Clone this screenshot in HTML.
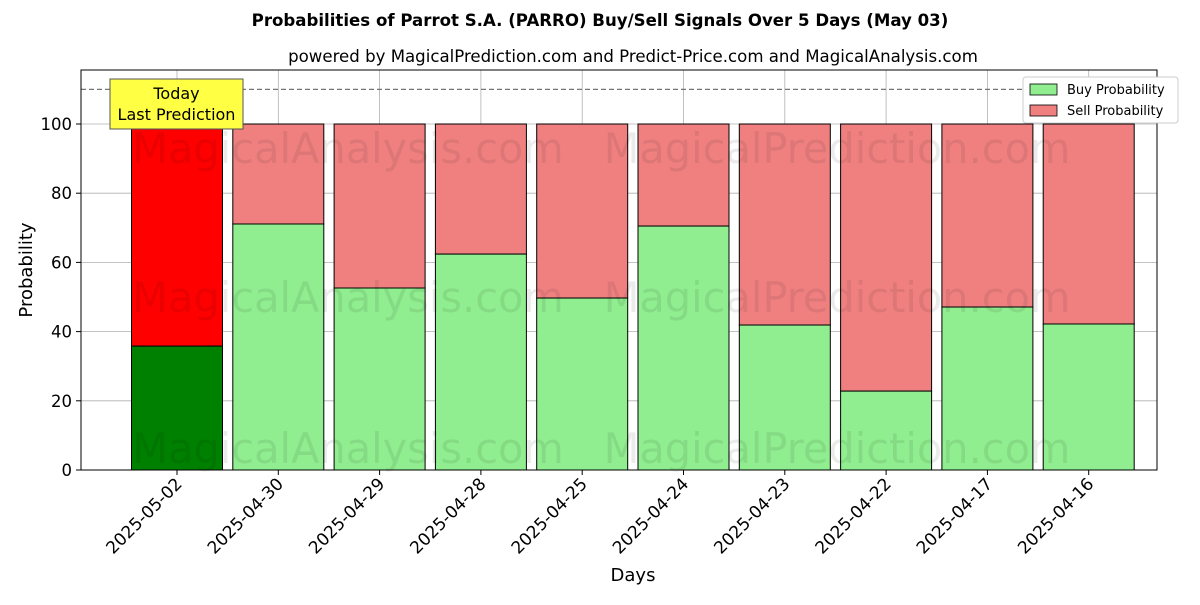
<!DOCTYPE html>
<html><head><meta charset="utf-8"><style>
body{margin:0;background:#fff;font-family:"Liberation Sans","DejaVu Sans",sans-serif;}
</style></head><body>
<svg id="chart" width="1200" height="600" xmlns="http://www.w3.org/2000/svg" font-family="DejaVu Sans, Liberation Sans, sans-serif">
<rect width="1200" height="600" fill="#fff"/>
<text x="600" y="26" text-anchor="middle" font-size="16.6" font-weight="bold">Probabilities of Parrot S.A. (PARRO) Buy/Sell Signals Over 5 Days (May 03)</text>
<text x="633" y="62" text-anchor="middle" font-size="16.6">powered by MagicalPrediction.com and Predict-Price.com and MagicalAnalysis.com</text>
<g id="grid"></g>
<g id="bars"></g>
<g id="wm" font-size="41.5" fill="rgba(0,0,0,0.08)">
<text x="348" y="163" text-anchor="middle">MagicalAnalysis.com</text>
<text x="837" y="163" text-anchor="middle">MagicalPrediction.com</text>
<text x="348" y="312" text-anchor="middle">MagicalAnalysis.com</text>
<text x="837" y="312" text-anchor="middle">MagicalPrediction.com</text>
<text x="348" y="463" text-anchor="middle">MagicalAnalysis.com</text>
<text x="837" y="463" text-anchor="middle">MagicalPrediction.com</text>
</g>
<line x1="81" x2="1157" y1="89.4" y2="89.4" stroke="#777" stroke-dasharray="5,3" stroke-width="1.2"/>
<rect x="81" y="70" width="1076" height="400" fill="none" stroke="#000" stroke-width="1"/>
<g id="axes"></g>
<g>
<rect x="110" y="79" width="133" height="50" fill="#ffff44" stroke="#555"/>
<text x="176.5" y="99" text-anchor="middle" font-size="16">Today</text>
<text x="176.5" y="120" text-anchor="middle" font-size="16">Last Prediction</text>
</g>
<g>
<rect x="1023" y="77" width="155" height="46" fill="#fff" stroke="#ccc" rx="3"/>
<rect x="1030" y="84" width="27" height="11" fill="#90ee90" stroke="#000" stroke-width="0.8"/>
<text x="1067" y="94" font-size="13">Buy Probability</text>
<rect x="1030" y="105" width="27" height="11" fill="#f08080" stroke="#000" stroke-width="0.8"/>
<text x="1067" y="115" font-size="13">Sell Probability</text>
</g>
<text x="633" y="581" text-anchor="middle" font-size="18">Days</text>
<text transform="translate(32,270) rotate(-90)" text-anchor="middle" font-size="18">Probability</text>
</svg>
<script>
const categories=["2025-05-02","2025-04-30","2025-04-29","2025-04-28","2025-04-25","2025-04-24","2025-04-23","2025-04-22","2025-04-17","2025-04-16"];
const buyValues=[35.8,71.1,52.6,62.4,49.7,70.5,41.9,22.8,47.1,42.2];
const yTicks=[0,20,40,60,80,100];
const NS="http://www.w3.org/2000/svg";
const yS=v=>470-v*3.46;
const xS=i=>177+101.3*i;
function mk(t,a,p){const e=document.createElementNS(NS,t);for(const k in a)e.setAttribute(k,a[k]);p.appendChild(e);return e;}
const grid=document.getElementById('grid'),bars=document.getElementById('bars'),axes=document.getElementById('axes');
yTicks.forEach(v=>{
 const g=mk('line',{x1:81,x2:1157,y1:yS(v),y2:yS(v),stroke:'#b0b0b0','stroke-width':0.8},grid);
 
 
 mk('line',{x1:76,x2:81,y1:yS(v),y2:yS(v),stroke:'#000'},axes);
 const t=mk('text',{x:72,y:yS(v)+6,'text-anchor':'end','font-size':16.5},axes);t.textContent=v;
 
 
});
categories.forEach((c,i)=>{
 const x=xS(i);
 mk('line',{x1:x,x2:x,y1:70,y2:470,stroke:'#b0b0b0','stroke-width':0.8},grid);
 const b=buyValues[i],w=91;
 const s=mk('rect',{x:x-w/2,y:yS(100),width:w,height:yS(b)-yS(100),fill:i==0?'#ff0000':'#f08080',stroke:'#000','stroke-width':1},bars);
 
 
 const r=mk('rect',{x:x-w/2,y:yS(b),width:w,height:470-yS(b),fill:i==0?'#008000':'#90ee90',stroke:'#000','stroke-width':1},bars);
 
 
 mk('line',{x1:x,x2:x,y1:470,y2:475,stroke:'#000'},axes);
 const t=mk('text',{transform:`translate(${x+6},${485}) rotate(-45)`,'text-anchor':'end','font-size':17},axes);t.textContent=c;
 
 
});
</script>
</body></html>
